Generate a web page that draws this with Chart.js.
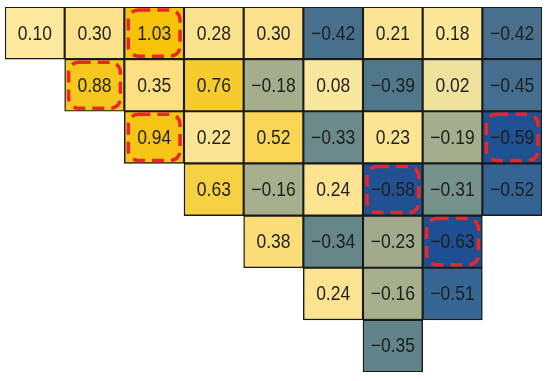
<!DOCTYPE html>
<html>
<head>
<meta charset="utf-8">
<script src="https://cdn.jsdelivr.net/npm/chart.js@4/dist/chart.umd.min.js"></script>
<style>
  body { margin: 0; background: #fff; }
  #wrap { width: 550px; height: 381px; }
</style>
</head>
<body>
<div id="wrap"><canvas id="heat"></canvas></div>
<script>
// columns of the triangle (no labels shown on the chart)
const columns = ['1', '2', '3', '4', '5', '6', '7', '8', '9'];

// one array per row, null where the triangle has no cell
const row1 = [0.10, 0.30, 1.03, 0.28, 0.30, -0.42, 0.21, 0.18, -0.42];
const row2 = [null, 0.88, 0.35, 0.76, -0.18, 0.08, -0.39, 0.02, -0.45];
const row3 = [null, null, 0.94, 0.22, 0.52, -0.33, 0.23, -0.19, -0.59];
const row4 = [null, null, null, 0.63, -0.16, 0.24, -0.58, -0.31, -0.52];
const row5 = [null, null, null, null, 0.38, -0.34, -0.23, -0.63, null];
const row6 = [null, null, null, null, null, 0.24, -0.16, -0.51, null];
const row7 = [null, null, null, null, null, null, -0.35, null, null];
const rows = [row1, row2, row3, row4, row5, row6, row7];

// cells circled with the red dashed box: [row, column]
const marked = [[0, 2], [1, 1], [2, 2], [2, 8], [3, 6], [4, 7]];

// colour stops, value -> colour
const stops = [
  [-0.64, [30, 78, 146]],
  [-0.57, [33, 82, 146]],
  [-0.50, [58, 106, 148]],
  [-0.42, [72, 112, 140]],
  [-0.36, [90, 128, 136]],
  [-0.31, [118, 146, 140]],
  [-0.24, [160, 170, 140]],
  [-0.15, [168, 176, 140]],
  [0.00, [236, 224, 156]],
  [0.10, [252, 233, 158]],
  [0.30, [251, 225, 140]],
  [0.50, [249, 215, 92]],
  [0.75, [246, 203, 46]],
  [1.05, [247, 194, 6]]
];

function cellColor(v) {
  if (v <= stops[0][0]) return 'rgb(' + stops[0][1].join(',') + ')';
  for (let i = 1; i < stops.length; i++) {
    if (v <= stops[i][0]) {
      const a = stops[i - 1], b = stops[i];
      const t = (v - a[0]) / (b[0] - a[0]);
      const c = a[1].map((x, k) => Math.round(x + (b[1][k] - x) * t));
      return 'rgb(' + c.join(',') + ')';
    }
  }
  return 'rgb(' + stops[stops.length - 1][1].join(',') + ')';
}

function fmt(v) {
  const s = Math.abs(v).toFixed(2);
  return v < 0 ? '\u2212' + s : s;
}

const datasets = rows.map((vals, r) => ({
  label: 'row ' + (r + 1),
  data: vals.map(v => v === null ? null : [r, r + 1]),
  values: vals,
  backgroundColor: vals.map(v => v === null ? 'rgba(0,0,0,0)' : cellColor(v)),
  borderColor: '#1a1a1a',
  borderWidth: 1.4,
  borderSkipped: false,
  categoryPercentage: 1,
  barPercentage: 1,
  grouped: false
}));

const cellText = {
  id: 'cellText',
  afterDatasetsDraw(chart) {
    const ctx = chart.ctx;
    ctx.save();
    // red dashed boxes
    ctx.strokeStyle = '#e8262c';
    ctx.lineWidth = 3.5;
    ctx.setLineDash([12, 7]);
    marked.forEach(([r, c]) => {
      const bar = chart.getDatasetMeta(r).data[c];
      if (!bar) return;
      const p = bar.getProps(['x', 'y', 'base', 'width'], true);
      const left = p.x - p.width / 2 + 4, right = p.x + p.width / 2 - 4;
      const top = Math.min(p.y, p.base) + 3, bottom = Math.max(p.y, p.base) - 3;
      ctx.beginPath();
      ctx.roundRect(left, top, right - left, bottom - top, 10);
      ctx.stroke();
    });
    ctx.setLineDash([]);
    // numbers
    ctx.fillStyle = '#1f1f1f';
    ctx.font = '17.5px "Liberation Sans", Arial, sans-serif';
    ctx.textAlign = 'center';
    ctx.textBaseline = 'middle';
    chart.data.datasets.forEach((ds, r) => {
      chart.getDatasetMeta(r).data.forEach((bar, c) => {
        const v = ds.values[c];
        if (v === null) return;
        const p = bar.getProps(['x', 'y', 'base'], true);
        ctx.save();
        ctx.translate(p.x, (p.y + p.base) / 2 + 1);
        ctx.scale(1, 1.14);
        ctx.fillText(fmt(v), 0, 0);
        ctx.restore();
      });
    });
    ctx.restore();
  }
};

new Chart(document.getElementById('heat'), {
  type: 'bar',
  data: { labels: columns, datasets: datasets },
  options: {
    responsive: true,
    maintainAspectRatio: false,
    animation: false,
    layout: { padding: { left: 5, right: 8, top: 7, bottom: 9 } },
    scales: {
      x: { display: false },
      y: { display: false, min: 0, max: 7, reverse: true }
    },
    plugins: {
      legend: { display: false },
      tooltip: { enabled: false }
    }
  },
  plugins: [cellText]
});
</script>
</body>
</html>
